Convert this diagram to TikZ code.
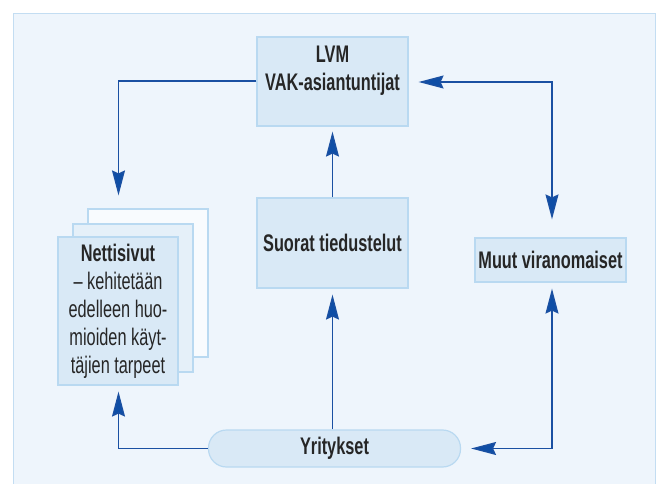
\documentclass[tikz,border=0pt]{standalone}
\usepackage{fontspec}
\setmainfont{Liberation Sans}[FakeStretch=0.68]
\usetikzlibrary{arrows.meta}
\definecolor{line blue}{HTML}{1A50A2}
\definecolor{tip blue}{HTML}{0E4EA6}
\definecolor{box fill}{HTML}{D9E9F6}
\definecolor{box edge}{HTML}{B9D9F1}
\definecolor{panel fill}{HTML}{EEF5FC}
\definecolor{panel edge}{HTML}{C3DDF2}
\tikzset{
  box/.style={draw=box edge, fill=box fill, line width=1.2pt, inner sep=0pt},
  page/.style={draw=box edge, line width=1.2pt, inner sep=0pt, minimum width=120, minimum height=148},
  boxtext/.style={font=\bfseries\fontsize{24}{28}\selectfont, align=center, text=black!85},
  link/.style={draw=line blue, line width=1.4pt, -{Stealth[length=25pt,width=13pt,inset=3pt,fill=tip blue]}},
  linkboth/.style={link, {Stealth[length=25pt,width=13pt,inset=3pt,fill=tip blue]}-{Stealth[length=25pt,width=13pt,inset=3pt,fill=tip blue]}}
  }
\begin{document}
\begin{tikzpicture}[x=1pt,y=-1pt]

    % panel behind everything
    \useasboundingbox (0,0) rectangle (659,484);
    \fill[panel fill, draw=panel edge, line width=1pt] (13.5,13.5) rectangle (655,495);

    % the boxes
    \node[box, minimum width=151, minimum height=89] (lvm) at (332.5,81.5) {};
    \node[boxtext] (lvmtext) at ([yshift=11]lvm.center) {LVM\\VAK-asiantuntijat};
    \node[box, minimum width=151, minimum height=90, boxtext] (suorat) at (332.5,243) {Suorat tiedustelut};
    \node[box, minimum width=151, minimum height=44, boxtext] (muut) at (550.5,260) {Muut viranomaiset};

    % stack of pages
    \node[page, fill=white!60!panel fill] (page3) at (148,283) {};
    \node[page, fill=box fill!45!panel fill] (page2) at (133,298) {};
    \node[page, fill=box fill, font=\fontsize{24}{28}\selectfont, align=center, text=black!85] (netti) at (118,311)
      {\textbf{Nettisivut}\\– kehitetään\\edelleen huo-\\mioiden käyt-\\täjien tarpeet};

    \node[box, rounded corners=18pt, minimum width=252, minimum height=37, boxtext] (yritys) at (334.5,448.5) {Yritykset};

    % corner points
    \coordinate (lvmleft) at (118.5,81);
    \coordinate (lvmright) at (552,82);
    \coordinate (yleft) at (118.5,448.5);
    \coordinate (yright) at (552,448.5);

    % the connections
    \path[link] (lvm.west |- lvmleft) -- (lvmleft) -- ([yshift=13]page3.north -| lvmleft);
    \path[link] (suorat.north) -- ([yshift=-5]lvm.south);
    \path[link] (yritys.north -| suorat) -- ([yshift=-6]suorat.south);
    \path[link] (yritys.west) -- (yleft) -- ([yshift=-6]netti.south -| yleft);
    \path[linkboth] ([xshift=10]lvm.east |- lvmright) -- (lvmright) -- ([yshift=18]muut.north -| lvmright);
    \path[link] (yright) -- ([yshift=-6]muut.south -| yright);
    \path[link] (yright) -- ([xshift=10]yritys.east);

\end{tikzpicture}
\end{document}
